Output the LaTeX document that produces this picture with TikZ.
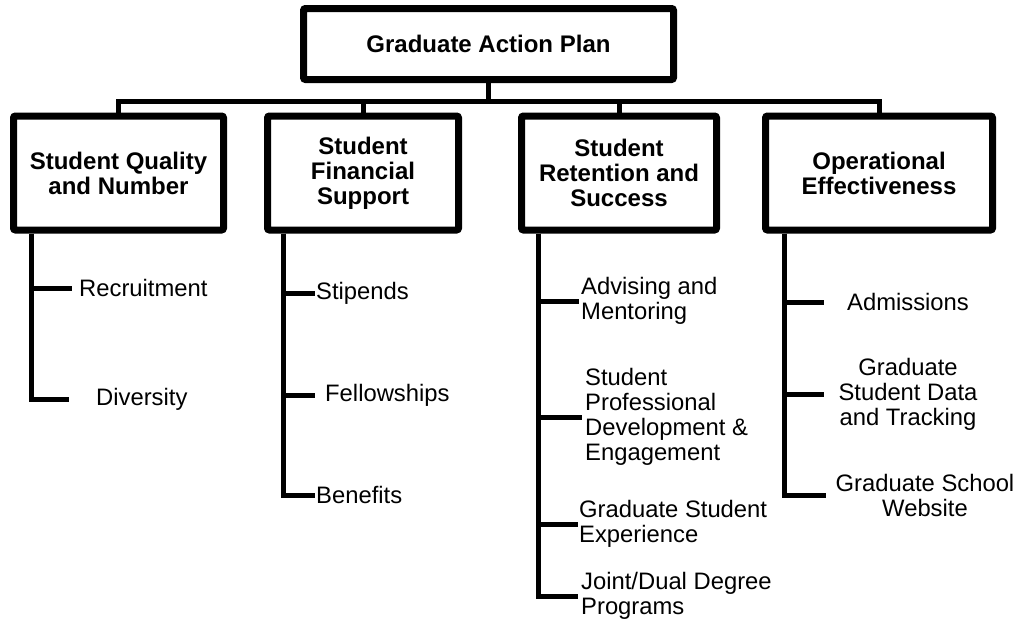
\documentclass[tikz,border=0pt]{standalone}
\usepackage{fontspec}
\setmainfont{Liberation Sans}
\usetikzlibrary{positioning}
\tikzset{
    plan-box/.style = {draw=black, fill=white, line width=7pt, rectangle, rounded corners=2pt, inner sep=0pt, align=center, font=\bfseries\fontsize{24}{25}\selectfont},
    leaf/.style = {inner sep=0pt, align=left, font=\fontsize{23.8}{25}\selectfont},
    link/.style = {line width=5pt},
}

\begin{document}
\begin{tikzpicture}[x=1pt, y=-1pt]
\useasboundingbox (0,0) rectangle (1015,621);

% top of the plan
\node [plan-box, minimum width=370pt, minimum height=71pt] (plan) at (488.5,44) {Graduate Action Plan};

% the four goals
\node [plan-box, minimum width=210pt, minimum height=114pt] (sqn) at (118.5,173) {Student Quality\\and Number};
\node [plan-box, minimum width=191pt, minimum height=114pt] (sfs) at (363,173) {Student\\Financial\\Support};
\node [plan-box, minimum width=195pt, minimum height=114pt] (srs) at (619,173) {Student\\Retention and\\Success};
\node [plan-box, minimum width=227pt, minimum height=114pt] (oe) at (879,173) {Operational\\Effectiveness};

\coordinate (bus) at (488.5,101);
\draw [link] (plan.south) -- (bus);
\draw [link] (bus) -| (sqn.north);
\draw [link] (bus) -| (sfs.north);
\draw [link] (bus) -| (srs.north);
\draw [link] (bus) -| (oe.north);

% items under each goal
\node [leaf, anchor=west] (recr) at (79,288) {Recruitment};
\node [leaf, anchor=west] (div) at (96,399) {Diversity};

\node [leaf, anchor=west] (stip) at (316,293) {Stipends};
\node [leaf, anchor=west] (fell) at (325,395) {Fellowships};
\node [leaf, anchor=west] (bene) at (316,495) {Benefits};

\node [leaf, anchor=west] (adv) at (581,301) {Advising and\\Mentoring};
\node [leaf, anchor=west] (prof) at (585,417) {Student\\Professional\\Development \&\\Engagement};
\node [leaf, anchor=west] (exp) at (579,524) {Graduate Student\\Experience};
\node [leaf, anchor=west] (joint) at (581,596) {Joint/Dual Degree\\Programs};

\node [leaf, align=center] (adm) at (908,302) {Admissions};
\node [leaf, align=center] (data) at (908,394) {Graduate\\Student Data\\and Tracking};
\node [leaf, align=center] (web) at (925,495) {Graduate School\\Website};

\coordinate (sqn-t) at ([xshift=21.5pt]sqn.south west);
\coordinate (sfs-t) at ([xshift=19.5pt]sfs.south west);
\coordinate (srs-t) at ([xshift=20.5pt]srs.south west);
\coordinate (oe-t) at ([xshift=22.5pt]oe.south west);

\draw [link] (sqn-t) |- ([xshift=-7pt]recr.west);
\draw [link] (sqn-t) |- ([xshift=-27pt]div.west);

\draw [link] (sfs-t) |- ([xshift=-1pt]stip.west);
\draw [link] (sfs-t) |- ([xshift=-10pt]fell.west);
\draw [link] (sfs-t) |- ([xshift=-1pt]bene.west);

\draw [link] (srs-t) |- ([xshift=-2pt]adv.west);
\draw [link] (srs-t) |- ([xshift=-3pt]prof.west);
\draw [link] (srs-t) |- ([xshift=-1pt]exp.west);
\draw [link] (srs-t) |- ([xshift=-3pt]joint.west);

\draw [link] (oe-t) |- ([xshift=-23pt]adm.west);
\draw [link] (oe-t) |- ([xshift=-14pt]data.west);
\draw [link] (oe-t) |- ([xshift=-10pt]web.west);
\end{tikzpicture}
\end{document}
